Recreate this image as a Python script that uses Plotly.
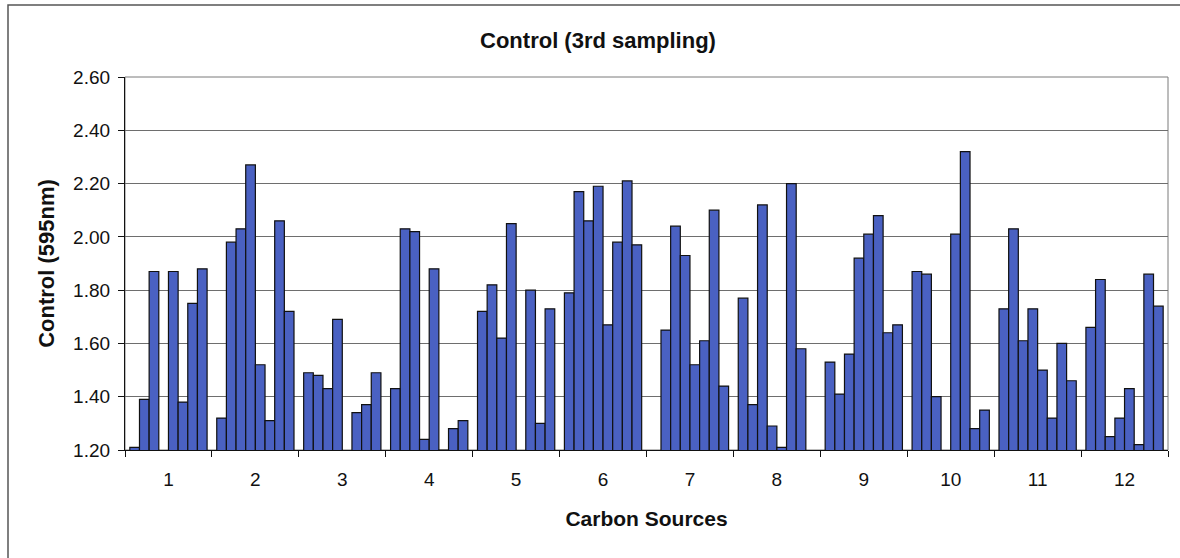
import plotly.graph_objects as go

# Carbon source columns (1-12) of the plate
carbon_sources = [str(i) for i in range(1, 13)]

# Absorbance at 595 nm per well row (A-H) across the 12 columns.
# None marks wells whose reading falls below the axis floor.
row_a = [1.21, 1.32, 1.49, 1.43, 1.72, 1.79, None, 1.77, 1.53, 1.87, 1.73, 1.66]
row_b = [1.39, 1.98, 1.48, 2.03, 1.82, 2.17, 1.65, 1.37, 1.41, 1.86, 2.03, 1.84]
row_c = [1.87, 2.03, 1.43, 2.02, 1.62, 2.06, 2.04, 2.12, 1.56, 1.40, 1.61, 1.25]
row_d = [None, 2.27, 1.69, 1.24, 2.05, 2.19, 1.93, 1.29, 1.92, None, 1.73, 1.32]
row_e = [1.87, 1.52, None, 1.88, None, 1.67, 1.52, 1.21, 2.01, 2.01, 1.50, 1.43]
row_f = [1.38, 1.31, 1.34, 1.20, 1.80, 1.98, 1.61, 2.20, 2.08, 2.32, 1.32, 1.22]
row_g = [1.75, 2.06, 1.37, 1.28, 1.30, 2.21, 2.10, 1.58, 1.64, 1.28, 1.60, 1.86]
row_h = [1.88, 1.72, 1.49, 1.31, 1.73, 1.97, 1.44, None, 1.67, 1.35, 1.46, 1.74]

rows = [row_a, row_b, row_c, row_d, row_e, row_f, row_g, row_h]
row_names = ["A", "B", "C", "D", "E", "F", "G", "H"]

y_ticks = [1.20, 1.40, 1.60, 1.80, 2.00, 2.20, 2.40, 2.60]

BAR_BLUE = "#4a61c2"
FONT = "Liberation Sans, Arial, sans-serif"

fig = go.Figure()
for name, vals in zip(row_names, rows):
    fig.add_trace(go.Bar(
        x=carbon_sources,
        y=vals,
        name=name,
        marker=dict(color=BAR_BLUE, line=dict(color="#111111", width=1.2)),
        showlegend=False,
    ))

W, H = 1180, 558
L, R, T, B = 125, 12, 77, 108
pw, ph = W - L - R, H - T - B


def px_x(x):
    return (x - L) / pw


def px_y(y):
    return (H - B - y) / ph


fig.update_layout(
    width=W,
    height=H,
    margin=dict(l=L, r=R, t=T, b=B),
    paper_bgcolor="white",
    plot_bgcolor="white",
    barmode="group",
    bargap=1 / 9,
    bargroupgap=0,
    font=dict(family=FONT, size=19, color="#111111"),
    title=dict(
        text="<b>Control (3rd sampling)</b>",
        x=598 / W,
        xanchor="center",
        y=1 - 40 / H,
        yanchor="middle",
        font=dict(family=FONT, size=22, color="#111111"),
    ),
    xaxis=dict(
        type="category",
        tickson="boundaries",
        ticks="outside",
        ticklen=6,
        tickcolor="#111111",
        showline=True,
        linecolor="#111111",
        linewidth=1.2,
        showgrid=False,
        tickfont=dict(size=19),
        ticklabelstandoff=12,
        title=dict(text="<b>Carbon Sources</b>", font=dict(size=21), standoff=22),
    ),
    yaxis=dict(
        range=[1.2, 2.6],
        tickvals=y_ticks,
        tickformat=".2f",
        ticks="outside",
        ticklen=6,
        tickcolor="#111111",
        showline=True,
        linecolor="#111111",
        linewidth=1.2,
        showgrid=True,
        gridcolor="#6e6e6e",
        gridwidth=1,
        zeroline=False,
        tickfont=dict(size=19),
        ticklabelstandoff=4,
        title=dict(text="<b>Control (595nm)</b>", font=dict(size=22), standoff=12),
    ),
    shapes=[
        # plot area frame
        dict(type="rect", xref="paper", yref="paper", x0=0, x1=1, y0=0, y1=1,
             line=dict(color="#7a7a7a", width=1), layer="below"),
        # chart area frame
        dict(type="rect", xref="paper", yref="paper",
             x0=px_x(8), x1=px_x(1190), y0=px_y(575), y1=px_y(5),
             line=dict(color="#555555", width=1.5), layer="below"),
    ],
)

fig.write_html("out.html")
